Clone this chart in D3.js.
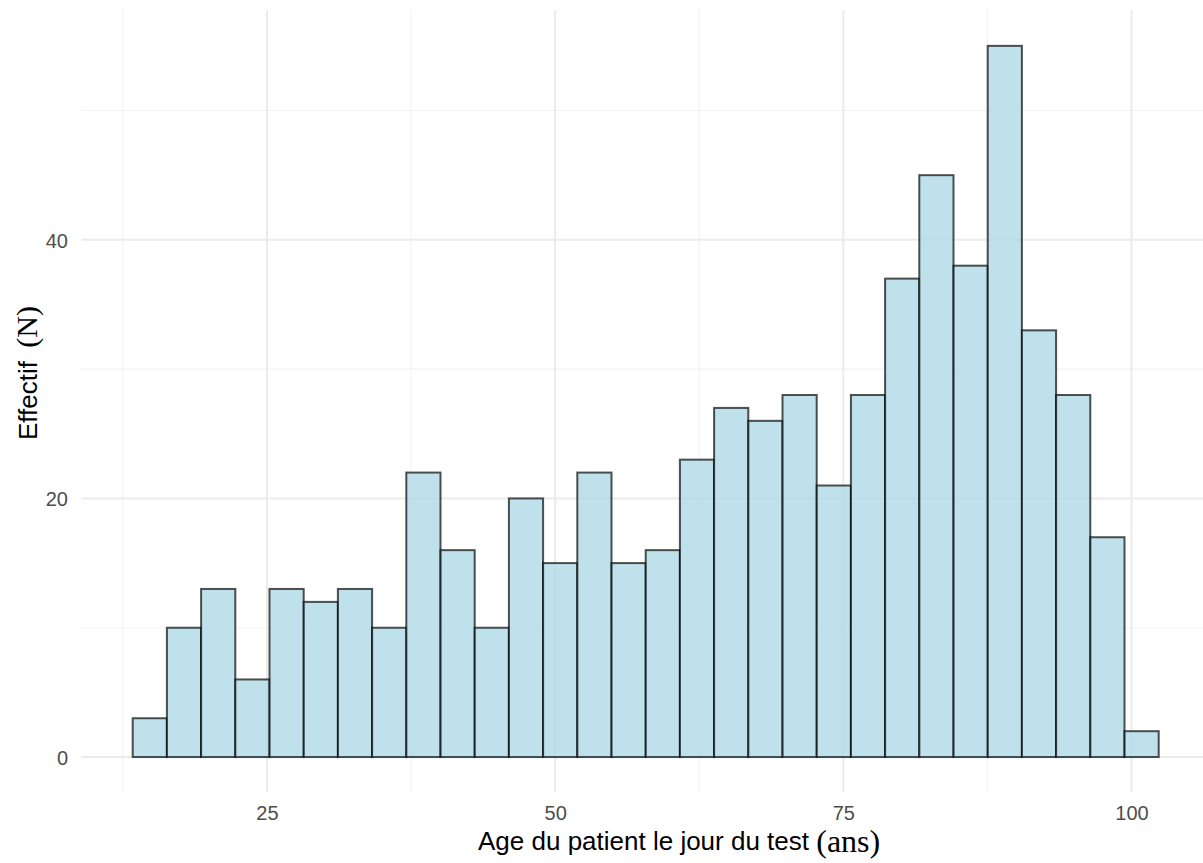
<!DOCTYPE html>
<html><head><meta charset="utf-8">
<script src="https://cdn.jsdelivr.net/npm/d3@7"></script>
<style>
html,body{margin:0;padding:0;background:#fff;}
svg{display:block;}
</style></head>
<body>
<svg id="chart" width="1203" height="863"></svg>
<script>
// ---- data ----
const binStart = 13.35;      // left edge of first bin (years)
const binWidth = 2.967;      // width of each bin (years)
const counts = [3,10,13,6,13,12,13,10,22,16,10,20,15,22,15,16,23,27,26,28,21,28,37,45,38,55,33,28,17,2];
const xMajorTicks = [25,50,75,100];
const xMinorTicks = [12.5,37.5,62.5,87.5];
const yMajorTicks = [0,20,40];
const yMinorTicks = [10,30,50];
const xTitleMain = "Age du patient le jour du test";
const xTitleUnit = "(ans)";
const yTitleMain = "Effectif";
const yTitleUnit = "(N)";

const bins = counts.map((c,i)=>({x0: binStart + i*binWidth, x1: binStart + (i+1)*binWidth, n: c}));

const svg = d3.select("#chart");
const xMin = bins[0].x0, xMax = bins[bins.length-1].x1;
const xPad = (xMax-xMin)*0.05;
const yMax = d3.max(counts), yPad = yMax*0.05;

const x = d3.scaleLinear().domain([xMin-xPad, xMax+xPad]).range([81.4, 1210]);
const y = d3.scaleLinear().domain([-yPad, yMax+yPad]).range([792.6, 10.3]);

const panel = svg.append("g");
// minor grid
panel.selectAll(".xminor").data(xMinorTicks).join("line")
  .attr("x1",d=>x(d)).attr("x2",d=>x(d)).attr("y1",y.range()[0]).attr("y2",y.range()[1])
  .attr("stroke","#F2F2F2").attr("stroke-width",1.1);
panel.selectAll(".yminor").data(yMinorTicks).join("line")
  .attr("y1",d=>y(d)).attr("y2",d=>y(d)).attr("x1",x.range()[0]).attr("x2",x.range()[1])
  .attr("stroke","#F2F2F2").attr("stroke-width",1.1);
// major grid
panel.selectAll(".xmajor").data(xMajorTicks).join("line")
  .attr("x1",d=>x(d)).attr("x2",d=>x(d)).attr("y1",y.range()[0]).attr("y2",y.range()[1])
  .attr("stroke","#EBEBEB").attr("stroke-width",2);
panel.selectAll(".ymajor").data(yMajorTicks).join("line")
  .attr("y1",d=>y(d)).attr("y2",d=>y(d)).attr("x1",x.range()[0]).attr("x2",x.range()[1])
  .attr("stroke","#EBEBEB").attr("stroke-width",2);

// bars
panel.selectAll("rect.bar").data(bins).join("rect")
  .attr("class","bar")
  .attr("x",d=>x(d.x0)).attr("width",d=>x(d.x1)-x(d.x0))
  .attr("y",d=>y(d.n)).attr("height",d=>y(0)-y(d.n))
  .attr("fill","rgba(173,216,230,0.78)")
  .attr("stroke","rgba(0,0,0,0.68)").attr("stroke-width",2);

// axes (text only, theme_minimal)
const xAxis = d3.axisBottom(x).tickValues(xMajorTicks).tickSize(0).tickPadding(0);
const gx = svg.append("g").attr("transform","translate(0,800)").call(xAxis);
gx.select(".domain").remove();
gx.selectAll("text").attr("fill","#4D4D4D").attr("font-size",20)
  .attr("font-family","'Liberation Sans', Arial, sans-serif").attr("dy","0").attr("y",20);

const yAxis = d3.axisLeft(y).tickValues(yMajorTicks).tickSize(0).tickPadding(0);
const gy = svg.append("g").attr("transform","translate(68,0)").call(yAxis);
gy.select(".domain").remove();
gy.selectAll("text").attr("fill","#4D4D4D").attr("font-size",20)
  .attr("font-family","'Liberation Sans', Arial, sans-serif").attr("dy","0.36em").attr("x",0);

// titles
const xt = svg.append("text").attr("x",478).attr("y",850).attr("fill","#000");
xt.append("tspan").attr("font-family","'Liberation Sans', Arial, sans-serif").attr("font-size",26).text(xTitleMain+" ");
xt.append("tspan").attr("font-family","'Liberation Serif', 'Times New Roman', serif").attr("font-size",32).attr("dy",2).text(xTitleUnit);

const yt = svg.append("text").attr("transform","translate(37,440) rotate(-90)").attr("fill","#000");
yt.append("tspan").attr("font-family","'Liberation Sans', Arial, sans-serif").attr("font-size",26).text(yTitleMain+" ");
yt.append("tspan").attr("font-family","'Liberation Serif', 'Times New Roman', serif").attr("font-size",30).attr("dx",6).text(yTitleUnit);
</script>
</body></html>
